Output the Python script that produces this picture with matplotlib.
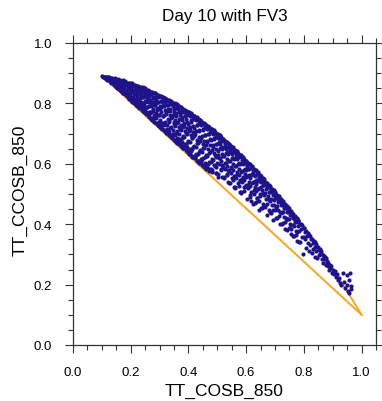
import matplotlib
matplotlib.use("Agg")
import matplotlib.pyplot as plt
from matplotlib.ticker import MultipleLocator

plt.rcParams["font.family"] = ["Liberation Sans", "DejaVu Sans"]

# Tracer pairs (COSB, CCOSB) at 850 hPa, grouped by COSB band
cosb = [
    0.100, 0.104, 0.107, 0.110, 0.112, 0.115, 0.118, 0.119,
    0.122, 0.124, 0.126, 0.128, 0.131, 0.133, 0.135, 0.137, 0.139,
    0.141, 0.143, 0.145, 0.147, 0.149, 0.151, 0.153, 0.155, 0.157, 0.159, 0.158,
    0.161, 0.162, 0.164, 0.166, 0.168, 0.170, 0.171, 0.173, 0.175, 0.177, 0.179, 0.178,
    0.181, 0.182, 0.184, 0.186, 0.187, 0.189, 0.191, 0.193, 0.194, 0.196, 0.198, 0.199, 0.197,
    0.201, 0.202, 0.204, 0.206, 0.207, 0.209, 0.211, 0.212, 0.214, 0.215, 0.217, 0.218, 0.219, 0.220,
    0.221, 0.223, 0.224, 0.226, 0.227, 0.229, 0.230, 0.232, 0.233, 0.235, 0.236, 0.237, 0.239, 0.240,
    0.241, 0.242, 0.244, 0.245, 0.247, 0.248, 0.250, 0.251, 0.253, 0.254, 0.256, 0.257, 0.258, 0.259, 0.260,
    0.261, 0.262, 0.264, 0.265, 0.266, 0.268, 0.269, 0.271, 0.272, 0.274, 0.275, 0.276, 0.277, 0.279, 0.280, 0.278,
    0.281, 0.282, 0.284, 0.285, 0.286, 0.288, 0.289, 0.290, 0.292, 0.293, 0.294, 0.296, 0.297, 0.298, 0.299, 0.300,
    0.301, 0.302, 0.304, 0.305, 0.306, 0.308, 0.309, 0.310, 0.312, 0.313, 0.314, 0.316, 0.317, 0.318, 0.319, 0.320, 0.315,
    0.321, 0.322, 0.324, 0.325, 0.326, 0.328, 0.329, 0.330, 0.332, 0.333, 0.334, 0.336, 0.337, 0.338, 0.339, 0.340, 0.335,
    0.341, 0.342, 0.344, 0.345, 0.346, 0.348, 0.349, 0.350, 0.352, 0.353, 0.354, 0.356, 0.357, 0.358, 0.359, 0.360, 0.355,
    0.361, 0.362, 0.364, 0.365, 0.366, 0.368, 0.369, 0.370, 0.372, 0.373, 0.374, 0.376, 0.377, 0.378, 0.379, 0.380, 0.375,
    0.381, 0.382, 0.384, 0.385, 0.386, 0.388, 0.389, 0.390, 0.392, 0.393, 0.394, 0.396, 0.397, 0.398, 0.399, 0.400, 0.395,
    0.401, 0.402, 0.404, 0.405, 0.406, 0.408, 0.409, 0.410, 0.412, 0.413, 0.414, 0.416, 0.417, 0.418, 0.419, 0.420, 0.415,
    0.421, 0.422, 0.424, 0.425, 0.426, 0.428, 0.429, 0.430, 0.432, 0.433, 0.434, 0.436, 0.437, 0.438, 0.439, 0.440, 0.435,
    0.441, 0.442, 0.444, 0.445, 0.446, 0.448, 0.449, 0.450, 0.452, 0.453, 0.454, 0.456, 0.457, 0.458, 0.459, 0.460, 0.455,
    0.461, 0.462, 0.464, 0.465, 0.466, 0.468, 0.469, 0.470, 0.472, 0.473, 0.474, 0.476, 0.477, 0.478, 0.479, 0.480, 0.475,
    0.481, 0.482, 0.484, 0.485, 0.486, 0.488, 0.489, 0.490, 0.492, 0.493, 0.494, 0.496, 0.497, 0.498, 0.499, 0.500, 0.495,
    0.501, 0.502, 0.504, 0.505, 0.506, 0.508, 0.509, 0.510, 0.512, 0.513, 0.514, 0.516, 0.517, 0.518, 0.519, 0.520, 0.515,
    0.521, 0.522, 0.524, 0.525, 0.526, 0.528, 0.529, 0.530, 0.532, 0.533, 0.534, 0.536, 0.537, 0.538, 0.539, 0.540, 0.535,
    0.541, 0.542, 0.544, 0.545, 0.546, 0.548, 0.549, 0.550, 0.552, 0.553, 0.554, 0.556, 0.557, 0.558, 0.559, 0.560, 0.555,
    0.561, 0.562, 0.564, 0.565, 0.566, 0.568, 0.569, 0.570, 0.572, 0.573, 0.574, 0.576, 0.577, 0.578, 0.579, 0.580, 0.575,
    0.581, 0.582, 0.584, 0.585, 0.586, 0.588, 0.589, 0.590, 0.592, 0.593, 0.594, 0.596, 0.598, 0.599, 0.600, 0.595,
    0.601, 0.603, 0.604, 0.606, 0.607, 0.609, 0.610, 0.612, 0.613, 0.615, 0.616, 0.618, 0.619, 0.620, 0.614,
    0.621, 0.623, 0.624, 0.626, 0.627, 0.629, 0.630, 0.632, 0.633, 0.635, 0.636, 0.638, 0.639, 0.640, 0.634,
    0.641, 0.643, 0.644, 0.646, 0.647, 0.649, 0.650, 0.652, 0.653, 0.655, 0.656, 0.658, 0.659, 0.660,
    0.661, 0.663, 0.664, 0.666, 0.667, 0.669, 0.670, 0.672, 0.673, 0.675, 0.676, 0.678, 0.679, 0.680,
    0.681, 0.683, 0.685, 0.687, 0.688, 0.690, 0.692, 0.694, 0.695, 0.697, 0.699, 0.700,
    0.701, 0.703, 0.705, 0.707, 0.708, 0.710, 0.712, 0.714, 0.716, 0.717, 0.719, 0.720,
    0.721, 0.723, 0.725, 0.727, 0.728, 0.730, 0.732, 0.734, 0.736, 0.737, 0.739, 0.740,
    0.741, 0.743, 0.745, 0.747, 0.749, 0.751, 0.753, 0.755, 0.757, 0.758, 0.760,
    0.761, 0.763, 0.765, 0.767, 0.769, 0.771, 0.773, 0.775, 0.777, 0.779, 0.780,
    0.781, 0.783, 0.785, 0.787, 0.789, 0.791, 0.793, 0.795, 0.797, 0.799, 0.800,
    0.801, 0.803, 0.805, 0.807, 0.809, 0.811, 0.813, 0.815, 0.817, 0.819,
    0.821, 0.823, 0.825, 0.827, 0.829, 0.831, 0.833, 0.835, 0.837, 0.839, 0.840,
    0.841, 0.843, 0.845, 0.847, 0.849, 0.851, 0.853, 0.855, 0.857, 0.859,
    0.861, 0.863, 0.865, 0.867, 0.869, 0.871, 0.873, 0.875, 0.877, 0.879,
    0.881, 0.883, 0.885, 0.887, 0.889, 0.892, 0.895, 0.898,
    0.902, 0.905, 0.908, 0.912, 0.915, 0.918, 0.921, 0.925, 0.930, 0.936,
    0.940, 0.944, 0.948, 0.950, 0.953, 0.956, 0.958, 0.962, 0.965, 0.960,
]

ccosb = [
    0.891, 0.889, 0.887, 0.885, 0.889, 0.882, 0.887, 0.879,
    0.884, 0.876, 0.887, 0.880, 0.872, 0.885, 0.877, 0.868, 0.882,
    0.874, 0.861, 0.883, 0.867, 0.878, 0.856, 0.871, 0.881, 0.862, 0.875, 0.849,
    0.868, 0.845, 0.878, 0.856, 0.872, 0.838, 0.862, 0.876, 0.848, 0.867, 0.831, 0.857,
    0.873, 0.842, 0.861, 0.826, 0.869, 0.851, 0.836, 0.869, 0.815, 0.858, 0.845, 0.866, 0.824,
    0.853, 0.810, 0.867, 0.838, 0.822, 0.860, 0.846, 0.800, 0.830, 0.861, 0.852, 0.813, 0.839, 0.795,
    0.859, 0.826, 0.843, 0.790, 0.855, 0.808, 0.835, 0.849, 0.818, 0.784, 0.854, 0.828, 0.800, 0.842,
    0.853, 0.776, 0.820, 0.838, 0.795, 0.850, 0.809, 0.832, 0.770, 0.845, 0.818, 0.787, 0.836, 0.760, 0.803,
    0.844, 0.826, 0.754, 0.790, 0.838, 0.812, 0.772, 0.831, 0.800, 0.745, 0.838, 0.820, 0.781, 0.760, 0.833, 0.806,
    0.818, 0.740, 0.795, 0.834, 0.768, 0.810, 0.752, 0.827, 0.784, 0.730, 0.829, 0.803, 0.760, 0.820, 0.724, 0.790,
    0.826, 0.745, 0.809, 0.772, 0.720, 0.822, 0.790, 0.735, 0.814, 0.757, 0.800, 0.712, 0.817, 0.778, 0.740, 0.806, 0.763,
    0.816, 0.702, 0.770, 0.794, 0.728, 0.811, 0.750, 0.783, 0.705, 0.810, 0.738, 0.798, 0.762, 0.690, 0.807, 0.722, 0.775,
    0.804, 0.686, 0.755, 0.792, 0.712, 0.802, 0.740, 0.772, 0.695, 0.800, 0.725, 0.786, 0.672, 0.758, 0.797, 0.708, 0.745,
    0.794, 0.668, 0.737, 0.781, 0.700, 0.790, 0.722, 0.760, 0.680, 0.788, 0.712, 0.772, 0.655, 0.745, 0.783, 0.692, 0.730,
    0.782, 0.652, 0.725, 0.770, 0.690, 0.779, 0.708, 0.748, 0.665, 0.776, 0.698, 0.760, 0.640, 0.733, 0.771, 0.676, 0.718,
    0.770, 0.634, 0.712, 0.757, 0.672, 0.767, 0.694, 0.738, 0.648, 0.763, 0.684, 0.748, 0.622, 0.720, 0.758, 0.660, 0.704,
    0.757, 0.618, 0.699, 0.744, 0.656, 0.754, 0.680, 0.727, 0.632, 0.750, 0.668, 0.735, 0.610, 0.707, 0.745, 0.645, 0.690,
    0.743, 0.603, 0.686, 0.730, 0.640, 0.740, 0.664, 0.712, 0.618, 0.736, 0.652, 0.721, 0.596, 0.694, 0.731, 0.630, 0.676,
    0.729, 0.590, 0.672, 0.716, 0.625, 0.726, 0.650, 0.698, 0.606, 0.721, 0.638, 0.706, 0.582, 0.680, 0.716, 0.616, 0.662,
    0.714, 0.578, 0.657, 0.700, 0.612, 0.711, 0.636, 0.683, 0.594, 0.705, 0.624, 0.690, 0.570, 0.664, 0.700, 0.603, 0.648,
    0.698, 0.566, 0.641, 0.684, 0.598, 0.694, 0.620, 0.667, 0.582, 0.689, 0.608, 0.674, 0.556, 0.650, 0.683, 0.590, 0.632,
    0.682, 0.552, 0.626, 0.667, 0.584, 0.677, 0.604, 0.650, 0.566, 0.672, 0.594, 0.657, 0.540, 0.633, 0.665, 0.575, 0.617,
    0.665, 0.536, 0.610, 0.650, 0.568, 0.660, 0.588, 0.634, 0.552, 0.654, 0.578, 0.640, 0.524, 0.616, 0.647, 0.560, 0.600,
    0.647, 0.522, 0.592, 0.633, 0.552, 0.642, 0.572, 0.616, 0.536, 0.636, 0.562, 0.622, 0.508, 0.598, 0.629, 0.545, 0.584,
    0.629, 0.506, 0.576, 0.614, 0.540, 0.623, 0.556, 0.598, 0.524, 0.617, 0.548, 0.604, 0.580, 0.610, 0.530, 0.566,
    0.610, 0.560, 0.594, 0.520, 0.603, 0.540, 0.582, 0.498, 0.598, 0.552, 0.586, 0.478, 0.566, 0.592, 0.528,
    0.590, 0.540, 0.574, 0.500, 0.584, 0.522, 0.560, 0.470, 0.578, 0.532, 0.566, 0.486, 0.548, 0.572, 0.510,
    0.570, 0.520, 0.552, 0.476, 0.562, 0.500, 0.540, 0.452, 0.558, 0.512, 0.546, 0.466, 0.530, 0.552,
    0.549, 0.498, 0.532, 0.456, 0.541, 0.482, 0.518, 0.432, 0.536, 0.494, 0.524, 0.446, 0.508, 0.530,
    0.528, 0.476, 0.510, 0.438, 0.518, 0.462, 0.498, 0.415, 0.512, 0.480, 0.504, 0.448,
    0.506, 0.458, 0.490, 0.420, 0.498, 0.472, 0.446, 0.492, 0.400, 0.478, 0.484, 0.436,
    0.483, 0.440, 0.470, 0.404, 0.476, 0.452, 0.424, 0.468, 0.385, 0.458, 0.461, 0.416,
    0.459, 0.418, 0.447, 0.386, 0.452, 0.430, 0.400, 0.444, 0.368, 0.432, 0.436,
    0.435, 0.398, 0.423, 0.360, 0.426, 0.408, 0.378, 0.420, 0.346, 0.410, 0.414,
    0.411, 0.376, 0.400, 0.340, 0.402, 0.384, 0.356, 0.396, 0.300, 0.386, 0.357,
    0.386, 0.350, 0.375, 0.322, 0.378, 0.360, 0.338, 0.370, 0.310, 0.364,
    0.360, 0.330, 0.350, 0.305, 0.352, 0.338, 0.318, 0.344, 0.290, 0.340, 0.326,
    0.334, 0.310, 0.326, 0.288, 0.324, 0.314, 0.298, 0.318, 0.300, 0.312,
    0.306, 0.286, 0.298, 0.272, 0.296, 0.284, 0.290, 0.266, 0.288, 0.276,
    0.278, 0.262, 0.272, 0.250, 0.266, 0.256, 0.262, 0.240,
    0.250, 0.236, 0.244, 0.226, 0.235, 0.214, 0.222, 0.205, 0.198, 0.240,
    0.210, 0.188, 0.232, 0.200, 0.180, 0.215, 0.172, 0.195, 0.185, 0.240,
]

# Further pairs from the densely populated part of the band
cosb_dense = [
    0.124, 0.117, 0.121, 0.116,
    0.133, 0.127, 0.131, 0.126,
    0.144, 0.137, 0.141, 0.136,
    0.153, 0.147, 0.151, 0.146,
    0.164, 0.157, 0.161, 0.156,
    0.173, 0.167, 0.171, 0.166,
    0.184, 0.177, 0.181, 0.176,
    0.193, 0.187, 0.191, 0.186,
    0.204, 0.197, 0.201, 0.196,
    0.214, 0.207, 0.211, 0.206, 0.209,
    0.223, 0.217, 0.221, 0.216, 0.224,
    0.234, 0.227, 0.231, 0.226, 0.229,
    0.243, 0.237, 0.241, 0.236, 0.244,
    0.254, 0.247, 0.251, 0.246, 0.249,
    0.263, 0.257, 0.261, 0.256, 0.264,
    0.274, 0.267, 0.271, 0.266, 0.269,
    0.283, 0.277, 0.281, 0.276, 0.284,
    0.294, 0.287, 0.291, 0.286, 0.289,
    0.303, 0.297, 0.301, 0.296, 0.304,
    0.314, 0.307, 0.311, 0.306, 0.309, 0.313,
    0.323, 0.317, 0.321, 0.316, 0.324, 0.319,
    0.334, 0.327, 0.331, 0.326, 0.329, 0.333,
    0.343, 0.337, 0.341, 0.336, 0.344, 0.339,
    0.354, 0.347, 0.351, 0.346, 0.349, 0.353,
    0.363, 0.357, 0.361, 0.356, 0.364, 0.359,
    0.374, 0.367, 0.371, 0.366, 0.369, 0.373,
    0.383, 0.377, 0.381, 0.376, 0.384, 0.379,
    0.394, 0.387, 0.391, 0.386, 0.389, 0.393,
    0.403, 0.397, 0.401, 0.396, 0.404, 0.399,
    0.414, 0.407, 0.411, 0.406, 0.409, 0.413,
    0.423, 0.417, 0.421, 0.416, 0.424, 0.419,
    0.434, 0.427, 0.431, 0.426, 0.429, 0.433,
    0.443, 0.437, 0.441, 0.436, 0.444, 0.439,
    0.454, 0.447, 0.451, 0.446, 0.449, 0.453,
    0.463, 0.457, 0.461, 0.456, 0.464, 0.459,
    0.474, 0.467, 0.471, 0.466, 0.469, 0.473,
    0.483, 0.477, 0.481, 0.476, 0.484, 0.479,
    0.494, 0.487, 0.491, 0.486, 0.489, 0.493,
    0.503, 0.497, 0.501, 0.496, 0.504, 0.499,
    0.514, 0.507, 0.511, 0.506, 0.509,
    0.523, 0.517, 0.521, 0.516, 0.524,
    0.534, 0.527, 0.531, 0.526, 0.529,
    0.543, 0.537, 0.541, 0.536, 0.544,
    0.554, 0.547, 0.551, 0.546, 0.549,
    0.563, 0.557, 0.561, 0.556, 0.564,
    0.574, 0.567, 0.571, 0.566, 0.569,
    0.583, 0.577, 0.581, 0.576, 0.584,
    0.594, 0.587, 0.591, 0.586, 0.589,
    0.603, 0.597, 0.601, 0.596, 0.604,
    0.614, 0.607, 0.611, 0.606, 0.609,
    0.623, 0.617, 0.621, 0.616, 0.624,
    0.634, 0.627, 0.631, 0.626, 0.629,
    0.643, 0.637, 0.641, 0.636, 0.644,
    0.654, 0.647, 0.651, 0.646, 0.649,
    0.663, 0.657, 0.661, 0.656,
    0.674, 0.667, 0.671, 0.666,
    0.683, 0.677, 0.681, 0.676,
    0.694, 0.687, 0.691, 0.686,
    0.703, 0.697, 0.701, 0.696,
    0.714, 0.707, 0.711, 0.706,
    0.723, 0.717, 0.721, 0.716,
    0.734, 0.727, 0.731, 0.726,
    0.743, 0.737, 0.741, 0.736,
    0.754, 0.747, 0.751, 0.746,
    0.763, 0.757, 0.761, 0.756,
    0.774, 0.767, 0.771, 0.766,
    0.783, 0.777, 0.781, 0.776,
]

ccosb_dense = [
    0.877, 0.881, 0.886, 0.888,
    0.868, 0.873, 0.879, 0.885,
    0.862, 0.871, 0.879, 0.883,
    0.851, 0.860, 0.870, 0.879,
    0.847, 0.859, 0.871, 0.877,
    0.835, 0.847, 0.861, 0.872,
    0.832, 0.848, 0.864, 0.871,
    0.819, 0.833, 0.851, 0.865,
    0.817, 0.836, 0.855, 0.865,
    0.802, 0.816, 0.830, 0.844, 0.858,
    0.801, 0.816, 0.831, 0.846, 0.858,
    0.786, 0.802, 0.818, 0.834, 0.850,
    0.786, 0.803, 0.820, 0.837, 0.851,
    0.769, 0.787, 0.805, 0.823, 0.841,
    0.770, 0.789, 0.808, 0.827, 0.842,
    0.752, 0.772, 0.792, 0.812, 0.832,
    0.754, 0.775, 0.796, 0.817, 0.833,
    0.736, 0.757, 0.779, 0.800, 0.822,
    0.738, 0.761, 0.783, 0.806, 0.824,
    0.713, 0.730, 0.759, 0.788, 0.806, 0.820,
    0.710, 0.734, 0.764, 0.792, 0.809, 0.817,
    0.696, 0.714, 0.745, 0.776, 0.794, 0.809,
    0.694, 0.719, 0.751, 0.780, 0.797, 0.806,
    0.679, 0.698, 0.731, 0.763, 0.783, 0.798,
    0.677, 0.703, 0.736, 0.767, 0.786, 0.795,
    0.661, 0.682, 0.716, 0.750, 0.770, 0.786,
    0.660, 0.687, 0.722, 0.754, 0.773, 0.783,
    0.644, 0.665, 0.701, 0.736, 0.757, 0.774,
    0.642, 0.671, 0.707, 0.740, 0.761, 0.771,
    0.627, 0.649, 0.685, 0.722, 0.744, 0.761,
    0.625, 0.655, 0.692, 0.726, 0.747, 0.757,
    0.609, 0.632, 0.669, 0.707, 0.730, 0.748,
    0.608, 0.639, 0.677, 0.712, 0.733, 0.744,
    0.592, 0.615, 0.653, 0.692, 0.715, 0.733,
    0.591, 0.622, 0.661, 0.697, 0.718, 0.729,
    0.582, 0.598, 0.637, 0.676, 0.700, 0.719,
    0.573, 0.605, 0.645, 0.681, 0.703, 0.714,
    0.568, 0.597, 0.628, 0.663, 0.687, 0.703,
    0.556, 0.588, 0.628, 0.665, 0.687, 0.698,
    0.579, 0.620, 0.652, 0.673, 0.687,
    0.555, 0.595, 0.627, 0.655, 0.674,
    0.562, 0.603, 0.635, 0.656, 0.671,
    0.537, 0.578, 0.610, 0.638, 0.657,
    0.545, 0.585, 0.618, 0.639, 0.653,
    0.520, 0.560, 0.592, 0.620, 0.639,
    0.527, 0.567, 0.600, 0.621, 0.635,
    0.502, 0.542, 0.574, 0.602, 0.621,
    0.509, 0.549, 0.581, 0.602, 0.617,
    0.484, 0.524, 0.556, 0.583, 0.602,
    0.491, 0.531, 0.563, 0.583, 0.598,
    0.466, 0.506, 0.537, 0.564, 0.583,
    0.473, 0.512, 0.543, 0.564, 0.578,
    0.448, 0.487, 0.518, 0.544, 0.563,
    0.454, 0.493, 0.524, 0.544, 0.557,
    0.460, 0.503, 0.529, 0.544,
    0.466, 0.503, 0.526, 0.536,
    0.441, 0.483, 0.508, 0.523,
    0.446, 0.483, 0.505, 0.515,
    0.422, 0.462, 0.486, 0.501,
    0.426, 0.461, 0.483, 0.493,
    0.402, 0.441, 0.465, 0.478,
    0.406, 0.440, 0.460, 0.470,
    0.382, 0.419, 0.442, 0.455,
    0.385, 0.418, 0.437, 0.446,
    0.362, 0.397, 0.419, 0.432,
    0.364, 0.395, 0.413, 0.422,
    0.342, 0.375, 0.395, 0.407,
]

# Pairs lying just above the mixing line
cosb_low = [
    0.150, 0.158, 0.166, 0.174, 0.182, 0.190, 0.198, 0.206, 0.214, 0.222,
    0.230, 0.238, 0.246, 0.254, 0.262, 0.270, 0.278, 0.286, 0.294, 0.302,
    0.310, 0.318, 0.326, 0.334, 0.342, 0.350, 0.358, 0.366, 0.374, 0.382,
    0.390, 0.398, 0.406, 0.414, 0.422, 0.430, 0.438, 0.446, 0.454, 0.462, 0.470,
    0.154, 0.170, 0.186, 0.202, 0.218, 0.234, 0.250, 0.266, 0.282, 0.298,
    0.314, 0.330, 0.346, 0.362, 0.378, 0.394, 0.410, 0.426, 0.442, 0.458,
]

ccosb_low = [
    0.855, 0.848, 0.840, 0.834, 0.827, 0.821, 0.813, 0.806, 0.800, 0.792,
    0.786, 0.778, 0.772, 0.764, 0.758, 0.750, 0.744, 0.736, 0.730, 0.722,
    0.716, 0.708, 0.702, 0.694, 0.688, 0.680, 0.674, 0.666, 0.660, 0.652,
    0.646, 0.638, 0.632, 0.624, 0.618, 0.610, 0.604, 0.596, 0.590, 0.583, 0.577,
    0.865, 0.848, 0.836, 0.822, 0.810, 0.796, 0.782, 0.768, 0.754, 0.740,
    0.727, 0.713, 0.699, 0.685, 0.671, 0.657, 0.643, 0.629, 0.615, 0.601,
]

# Upper bound: the functional relation curve
curve_x = [0.10, 0.15, 0.20, 0.25, 0.30, 0.35, 0.40, 0.45, 0.50, 0.55,
           0.60, 0.65, 0.70, 0.75, 0.80, 0.85, 0.90, 0.95, 1.00]
curve_y = [0.892, 0.882, 0.868, 0.850, 0.828, 0.802, 0.772, 0.738, 0.700, 0.658,
           0.612, 0.562, 0.508, 0.450, 0.388, 0.322, 0.252, 0.178, 0.100]

# Lower bound: straight mixing line between the curve's end points
line_x = [0.10, 1.00]
line_y = [0.892, 0.100]

W, H = 382, 402
fig = plt.figure(figsize=(W / 100, H / 100), dpi=100)
ax = fig.add_axes([73 / W, 1 - 346 / H, (376 - 73) / W, (346 - 44) / H])

orange = "#f5a623"
navy = "#1e1388"
ax.plot(curve_x, curve_y, color=orange, lw=1.4, zorder=2)
ax.plot(line_x, line_y, color=orange, lw=1.4, zorder=2)
for xs, ys in ((cosb, ccosb), (cosb_dense, ccosb_dense), (cosb_low, ccosb_low)):
    ax.scatter(xs, ys, s=9, color=navy, marker="o", linewidths=0, zorder=3)

ax.set_xlim(0, 1.05)
ax.set_ylim(0, 1.0)
ax.xaxis.set_major_locator(MultipleLocator(0.2))
ax.xaxis.set_minor_locator(MultipleLocator(0.05))
ax.yaxis.set_major_locator(MultipleLocator(0.2))
ax.yaxis.set_minor_locator(MultipleLocator(0.05))
ax.xaxis.set_major_formatter(lambda v, p: f"{v:.1f}")
ax.yaxis.set_major_formatter(lambda v, p: f"{v:.1f}")

ax.tick_params(which="both", direction="out", top=True, right=True,
               color="#333333", width=0.8, labelsize=9.5, pad=9)
ax.tick_params(which="major", length=6)
ax.tick_params(which="minor", length=3.5)
for sp in ax.spines.values():
    sp.set_linewidth(0.9)
    sp.set_color("#333333")

fig.text((73 + 376) / 2 / W, 1 - 16 / H, "Day 10 with FV3", ha="center", va="center", fontsize=12.3)
fig.text((73 + 376) / 2 / W, 1 - 391 / H, "TT_COSB_850", ha="center", va="center", fontsize=12.5)
fig.text(20 / W, 1 - 190 / H, "TT_CCOSB_850", ha="center", va="center", rotation=90, fontsize=12.5)

fig.savefig("out.png", dpi=100)
